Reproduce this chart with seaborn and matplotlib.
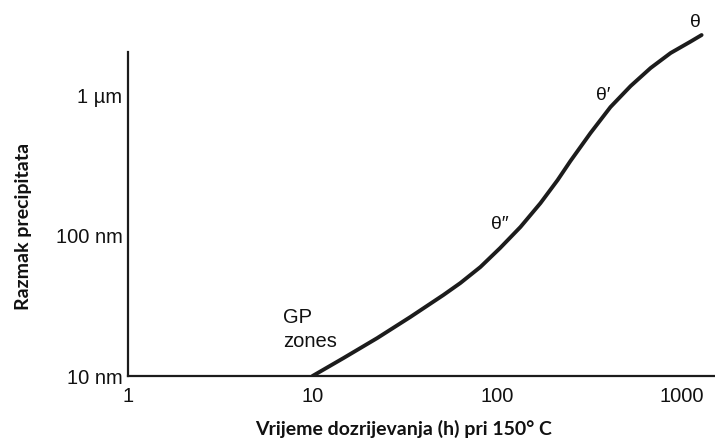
import matplotlib
matplotlib.use("Agg")
import matplotlib.pyplot as plt
import seaborn as sns
import pandas as pd

# data (ageing time in h, precipitate spacing in nm)
time_h = [10, 14.7, 22.4, 33.9, 51.2, 63.3, 81.3, 104, 134, 172, 213, 250,
          321, 412, 530, 680, 873, 1121, 1285]
spacing_nm = [10, 13.4, 18.6, 26.3, 37.7, 45.9, 59.7, 81.5, 115, 170, 248, 339,
              536, 821, 1159, 1557, 1991, 2403, 2673]

x_ticks = [1, 10, 100, 1000]
x_tick_labels = ["1", "10", "100", "1000"]
y_ticks = [10, 100, 1000]
y_tick_labels = ["10 nm", "100 nm", "1 \u00b5m"]

phase_labels = ["\u03b8", "\u03b8\u2032", "\u03b8\u2033"]
phase_x = [1193, 378, 104]
phase_y = [3308, 1000, 119]

df = pd.DataFrame({"t": time_h, "s": spacing_nm})

sns.set_style("white")
plt.rcParams["font.family"] = ["Liberation Sans", "DejaVu Sans"]

fig = plt.figure(figsize=(7.15, 4.4), dpi=100)
ax = fig.add_axes([128 / 715, 64 / 440, 586 / 715, 356 / 440])

sns.lineplot(data=df, x="t", y="s", ax=ax, color="#1c1c1c", linewidth=2.8)
for ln in ax.lines:
    ln.set_solid_joinstyle("round")
    ln.set_solid_capstyle("round")

ax.set_xscale("log")
ax.set_yscale("log")
ax.set_xlim(1, 1500)
ax.set_ylim(10, 3420)

ax.set_xticks(x_ticks)
ax.set_xticklabels(x_tick_labels)
ax.set_yticks(y_ticks)
ax.set_yticklabels(y_tick_labels)
ax.minorticks_off()

ax.tick_params(axis="both", direction="in", length=13, width=1.2,
               color="#1c1c1c", labelsize=14.5, labelcolor="#111111")
ax.tick_params(axis="x", pad=8)
ax.tick_params(axis="y", pad=4)

for s in ["top", "right"]:
    ax.spines[s].set_visible(False)
for s in ["left", "bottom"]:
    ax.spines[s].set_linewidth(1.6)
    ax.spines[s].set_color("#1c1c1c")
ax.spines["left"].set_bounds(10, 2030)

ax.set_xlabel("Vrijeme dozrijevanja (h) pri 150\u00b0 C", family=["Lato", "DejaVu Sans"],
              fontweight="bold", fontsize=14, color="#111111")
ax.set_ylabel("Razmak precipitata", family=["Lato", "DejaVu Sans"],
              fontweight="bold", fontsize=14, color="#111111")
ax.xaxis.set_label_coords((404 - 128) / 586, -(420 - 376) / 356)
ax.yaxis.set_label_coords(-(128 - 32) / 586, (376 - 226) / 356)

for lab, px, py in zip(phase_labels, phase_x, phase_y):
    ax.text(px, py, lab, ha="center", va="center", fontsize=14, color="#111111")

ax.text(6.93, 25.9, "GP", ha="left", va="center", fontsize=14.5, color="#111111")
ax.text(6.93, 17.7, "zones", ha="left", va="center", fontsize=14.5, color="#111111")

fig.savefig("out.png", dpi=100)
